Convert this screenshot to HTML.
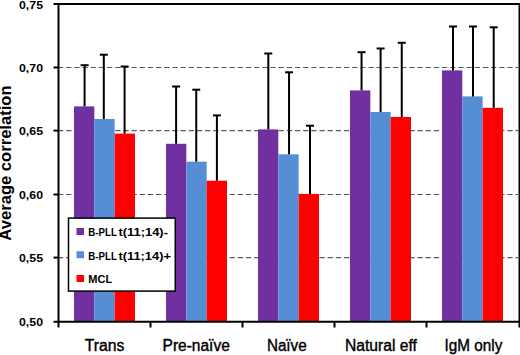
<!DOCTYPE html>
<html><head><meta charset="utf-8"><style>
html,body{margin:0;padding:0;background:#fff;width:520px;height:355px;overflow:hidden;}
svg{display:block;font-family:"Liberation Sans",sans-serif;}
</style></head><body>
<svg width="520" height="355" viewBox="0 0 520 355">
<rect x="0" y="0" width="520" height="355" fill="#fff"/>
<line x1="57.99" y1="67.50" x2="518" y2="67.50" stroke="#5a5a5a" stroke-width="1.1" stroke-dasharray="5.3 2.87"/>
<line x1="57.99" y1="130.60" x2="518" y2="130.60" stroke="#5a5a5a" stroke-width="1.1" stroke-dasharray="5.3 2.87"/>
<line x1="57.99" y1="194.50" x2="518" y2="194.50" stroke="#5a5a5a" stroke-width="1.1" stroke-dasharray="5.3 2.87"/>
<line x1="57.99" y1="257.60" x2="518" y2="257.60" stroke="#5a5a5a" stroke-width="1.1" stroke-dasharray="5.3 2.87"/>
<rect x="74.00" y="106.40" width="20.33" height="215.40" fill="#7030A0"/>
<rect x="94.33" y="119.00" width="20.33" height="202.80" fill="#558ED5"/>
<rect x="114.66" y="133.60" width="20.33" height="188.20" fill="#FF0000"/>
<rect x="166.00" y="143.80" width="20.33" height="178.00" fill="#7030A0"/>
<rect x="186.33" y="161.70" width="20.33" height="160.10" fill="#558ED5"/>
<rect x="206.66" y="180.70" width="20.33" height="141.10" fill="#FF0000"/>
<rect x="258.00" y="129.40" width="20.33" height="192.40" fill="#7030A0"/>
<rect x="278.33" y="154.30" width="20.33" height="167.50" fill="#558ED5"/>
<rect x="298.66" y="193.90" width="20.33" height="127.90" fill="#FF0000"/>
<rect x="350.00" y="90.40" width="20.33" height="231.40" fill="#7030A0"/>
<rect x="370.33" y="112.00" width="20.33" height="209.80" fill="#558ED5"/>
<rect x="390.66" y="117.00" width="20.33" height="204.80" fill="#FF0000"/>
<rect x="442.00" y="70.40" width="20.33" height="251.40" fill="#7030A0"/>
<rect x="462.33" y="96.40" width="20.33" height="225.40" fill="#558ED5"/>
<rect x="482.66" y="107.80" width="20.33" height="214.00" fill="#FF0000"/>
<line x1="84.60" y1="106.40" x2="84.60" y2="65.20" stroke="#000" stroke-width="2"/>
<line x1="80.60" y1="65.20" x2="88.60" y2="65.20" stroke="#000" stroke-width="2"/>
<line x1="103.80" y1="119.00" x2="103.80" y2="54.70" stroke="#000" stroke-width="2"/>
<line x1="99.80" y1="54.70" x2="107.80" y2="54.70" stroke="#000" stroke-width="2"/>
<line x1="124.60" y1="133.60" x2="124.60" y2="66.50" stroke="#000" stroke-width="2"/>
<line x1="120.60" y1="66.50" x2="128.60" y2="66.50" stroke="#000" stroke-width="2"/>
<line x1="176.10" y1="143.80" x2="176.10" y2="86.50" stroke="#000" stroke-width="2"/>
<line x1="172.10" y1="86.50" x2="180.10" y2="86.50" stroke="#000" stroke-width="2"/>
<line x1="196.25" y1="161.70" x2="196.25" y2="89.70" stroke="#000" stroke-width="2"/>
<line x1="192.25" y1="89.70" x2="200.25" y2="89.70" stroke="#000" stroke-width="2"/>
<line x1="216.90" y1="180.70" x2="216.90" y2="115.40" stroke="#000" stroke-width="2"/>
<line x1="212.90" y1="115.40" x2="220.90" y2="115.40" stroke="#000" stroke-width="2"/>
<line x1="268.30" y1="129.40" x2="268.30" y2="53.50" stroke="#000" stroke-width="2"/>
<line x1="264.30" y1="53.50" x2="272.30" y2="53.50" stroke="#000" stroke-width="2"/>
<line x1="289.05" y1="154.30" x2="289.05" y2="72.30" stroke="#000" stroke-width="2"/>
<line x1="285.05" y1="72.30" x2="293.05" y2="72.30" stroke="#000" stroke-width="2"/>
<line x1="310.00" y1="193.90" x2="310.00" y2="125.70" stroke="#000" stroke-width="2"/>
<line x1="306.00" y1="125.70" x2="314.00" y2="125.70" stroke="#000" stroke-width="2"/>
<line x1="361.55" y1="90.40" x2="361.55" y2="52.20" stroke="#000" stroke-width="2"/>
<line x1="357.55" y1="52.20" x2="365.55" y2="52.20" stroke="#000" stroke-width="2"/>
<line x1="380.60" y1="112.00" x2="380.60" y2="48.50" stroke="#000" stroke-width="2"/>
<line x1="376.60" y1="48.50" x2="384.60" y2="48.50" stroke="#000" stroke-width="2"/>
<line x1="401.75" y1="117.00" x2="401.75" y2="42.80" stroke="#000" stroke-width="2"/>
<line x1="397.75" y1="42.80" x2="405.75" y2="42.80" stroke="#000" stroke-width="2"/>
<line x1="453.00" y1="70.40" x2="453.00" y2="26.50" stroke="#000" stroke-width="2"/>
<line x1="449.00" y1="26.50" x2="457.00" y2="26.50" stroke="#000" stroke-width="2"/>
<line x1="473.00" y1="96.40" x2="473.00" y2="26.50" stroke="#000" stroke-width="2"/>
<line x1="469.00" y1="26.50" x2="477.00" y2="26.50" stroke="#000" stroke-width="2"/>
<line x1="493.70" y1="107.80" x2="493.70" y2="27.30" stroke="#000" stroke-width="2"/>
<line x1="489.70" y1="27.30" x2="497.70" y2="27.30" stroke="#000" stroke-width="2"/>
<path d="M58.50 4.00 H519.5 V321.80 H58.50 Z" fill="none" stroke="#000" stroke-width="2"/>
<line x1="53.5" y1="4.00" x2="58.50" y2="4.00" stroke="#000" stroke-width="2"/>
<line x1="53.5" y1="67.50" x2="58.50" y2="67.50" stroke="#000" stroke-width="2"/>
<line x1="53.5" y1="130.60" x2="58.50" y2="130.60" stroke="#000" stroke-width="2"/>
<line x1="53.5" y1="194.50" x2="58.50" y2="194.50" stroke="#000" stroke-width="2"/>
<line x1="53.5" y1="257.60" x2="58.50" y2="257.60" stroke="#000" stroke-width="2"/>
<line x1="53.5" y1="321.80" x2="58.50" y2="321.80" stroke="#000" stroke-width="2"/>
<line x1="58.50" y1="321.80" x2="58.50" y2="327.5" stroke="#000" stroke-width="2"/>
<line x1="150.50" y1="321.80" x2="150.50" y2="327.5" stroke="#000" stroke-width="2"/>
<line x1="242.50" y1="321.80" x2="242.50" y2="327.5" stroke="#000" stroke-width="2"/>
<line x1="334.50" y1="321.80" x2="334.50" y2="327.5" stroke="#000" stroke-width="2"/>
<line x1="426.50" y1="321.80" x2="426.50" y2="327.5" stroke="#000" stroke-width="2"/>
<line x1="519.50" y1="321.80" x2="519.50" y2="327.5" stroke="#000" stroke-width="2"/>
<text x="43" y="8.50" text-anchor="end" font-family="Liberation Sans" font-weight="bold" font-size="11" textLength="24" lengthAdjust="spacingAndGlyphs">0,75</text>
<text x="43" y="72.00" text-anchor="end" font-family="Liberation Sans" font-weight="bold" font-size="11" textLength="24" lengthAdjust="spacingAndGlyphs">0,70</text>
<text x="43" y="135.10" text-anchor="end" font-family="Liberation Sans" font-weight="bold" font-size="11" textLength="24" lengthAdjust="spacingAndGlyphs">0,65</text>
<text x="43" y="199.00" text-anchor="end" font-family="Liberation Sans" font-weight="bold" font-size="11" textLength="24" lengthAdjust="spacingAndGlyphs">0,60</text>
<text x="43" y="262.10" text-anchor="end" font-family="Liberation Sans" font-weight="bold" font-size="11" textLength="24" lengthAdjust="spacingAndGlyphs">0,55</text>
<text x="43" y="326.30" text-anchor="end" font-family="Liberation Sans" font-weight="bold" font-size="11" textLength="24" lengthAdjust="spacingAndGlyphs">0,50</text>
<text x="84.80" y="351.3" font-family="Liberation Sans" font-size="16" textLength="39.60" lengthAdjust="spacingAndGlyphs" stroke="#000" stroke-width="0.4">Trans</text>
<text x="162.60" y="351.3" font-family="Liberation Sans" font-size="16" textLength="67.20" lengthAdjust="spacingAndGlyphs" stroke="#000" stroke-width="0.4">Pre-naïve</text>
<text x="266.90" y="351.3" font-family="Liberation Sans" font-size="16" textLength="39.80" lengthAdjust="spacingAndGlyphs" stroke="#000" stroke-width="0.4">Naïve</text>
<text x="345.00" y="351.3" font-family="Liberation Sans" font-size="16" textLength="71.90" lengthAdjust="spacingAndGlyphs" stroke="#000" stroke-width="0.4">Natural eff</text>
<text x="444.60" y="351.3" font-family="Liberation Sans" font-size="16" textLength="57.70" lengthAdjust="spacingAndGlyphs" stroke="#000" stroke-width="0.4">IgM only</text>
<text transform="translate(11.2,163) rotate(-90)" text-anchor="middle" font-family="Liberation Sans" font-weight="bold" font-size="16.6">Average correlation</text>
<rect x="68.5" y="218.1" width="106.75" height="73" fill="#fff" stroke="#000" stroke-width="1.5"/>
<rect x="76.5" y="228.00" width="7.5" height="7" fill="#7030A0"/>
<text x="88.3" y="235.80" font-family="Liberation Sans" font-weight="bold" font-size="11" textLength="28.6" lengthAdjust="spacingAndGlyphs">B-PLL</text>
<text x="118.4" y="235.80" font-family="Liberation Sans" font-weight="bold" font-size="11" textLength="49.6" lengthAdjust="spacingAndGlyphs">t(11;14)-</text>
<rect x="76.5" y="251.20" width="7.5" height="7" fill="#558ED5"/>
<text x="88.3" y="259.50" font-family="Liberation Sans" font-weight="bold" font-size="11" textLength="28.6" lengthAdjust="spacingAndGlyphs">B-PLL</text>
<text x="118.4" y="259.50" font-family="Liberation Sans" font-weight="bold" font-size="11" textLength="52.6" lengthAdjust="spacingAndGlyphs">t(11;14)+</text>
<rect x="76.5" y="275.00" width="7.5" height="7" fill="#FF0000"/>
<text x="88.3" y="283.30" font-family="Liberation Sans" font-weight="bold" font-size="11">MCL</text>
</svg>
</body></html>
